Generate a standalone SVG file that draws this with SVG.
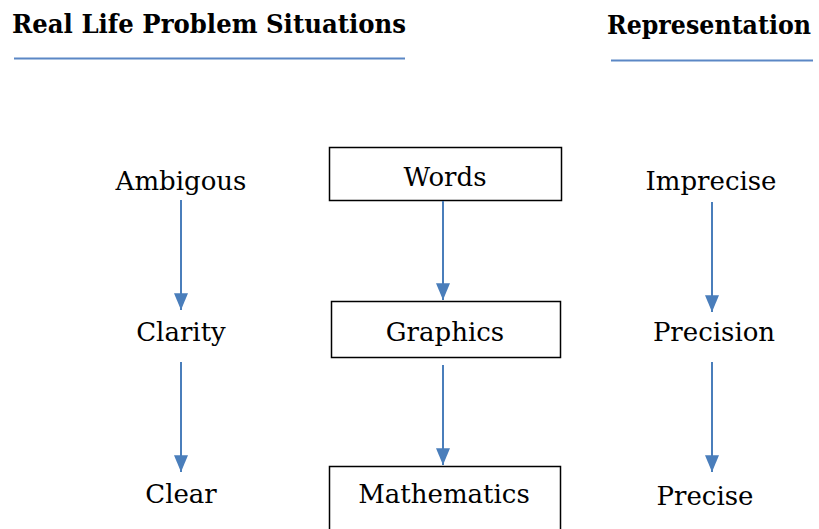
<svg xmlns="http://www.w3.org/2000/svg" width="819" height="529" viewBox="0 0 819 529">
<style>
.hd{font-family:'DejaVu Serif','Liberation Serif',serif;font-weight:bold;font-size:26px;fill:#000}
.lb{font-family:'DejaVu Serif','Liberation Serif',serif;font-size:26px;fill:#000;text-anchor:middle}
.box{fill:#fff;stroke:#000;stroke-width:1.5}
.ul{stroke:#5b87c5;stroke-width:2;fill:none}
.ar{stroke:#4a7ebb;stroke-width:2;fill:none;marker-end:url(#ahb)}
</style>
<defs>
<marker id="ahb" viewBox="0 0 12 10" refX="12" refY="5" markerWidth="16.8" markerHeight="14" markerUnits="userSpaceOnUse" orient="auto">
<path d="M0,0 L12,5 L0,10 z" fill="#4a7ebb"/>
</marker>
</defs>
<g id="header-left">
<text class="hd" x="12" y="33" textLength="394" lengthAdjust="spacingAndGlyphs">Real Life Problem Situations</text>
<line class="ul" x1="14" y1="58.5" x2="405" y2="58.5"/>
</g>
<g id="header-right">
<text class="hd" transform="translate(607,34) scale(0.88,1)" x="0" y="0" textLength="231.8" lengthAdjust="spacingAndGlyphs">Representation</text>
<line class="ul" x1="611" y1="60.5" x2="813" y2="60.5"/>
</g>
<g id="ambigous"><text class="lb" x="181" y="190">Ambigous</text></g>
<g id="clarity"><text class="lb" x="181" y="341">Clarity</text></g>
<g id="clear"><text class="lb" x="181" y="503">Clear</text></g>
<g id="words"><rect class="box" x="329.5" y="147.5" width="232" height="53"/><text class="lb" x="445" y="186">Words</text></g>
<g id="graphics"><rect class="box" x="331.5" y="301.5" width="229" height="56"/><text class="lb" x="445" y="341">Graphics</text></g>
<g id="mathematics"><rect class="box" x="329.5" y="466.5" width="231" height="80"/><text class="lb" x="444" y="503">Mathematics</text></g>
<g id="imprecise"><text class="lb" x="711" y="190">Imprecise</text></g>
<g id="precision"><text class="lb" x="714" y="341">Precision</text></g>
<g id="precise"><text class="lb" x="705" y="505">Precise</text></g>
<g id="connectors">
<line class="ar" x1="181" y1="200" x2="181" y2="310"/>
<line class="ar" x1="181" y1="362" x2="181" y2="472"/>
<line class="ar" x1="443" y1="201" x2="443" y2="300"/>
<line class="ar" x1="443" y1="365" x2="443" y2="465"/>
<line class="ar" x1="712" y1="202" x2="712" y2="312"/>
<line class="ar" x1="712" y1="362" x2="712" y2="472"/>
</g>
</svg>
